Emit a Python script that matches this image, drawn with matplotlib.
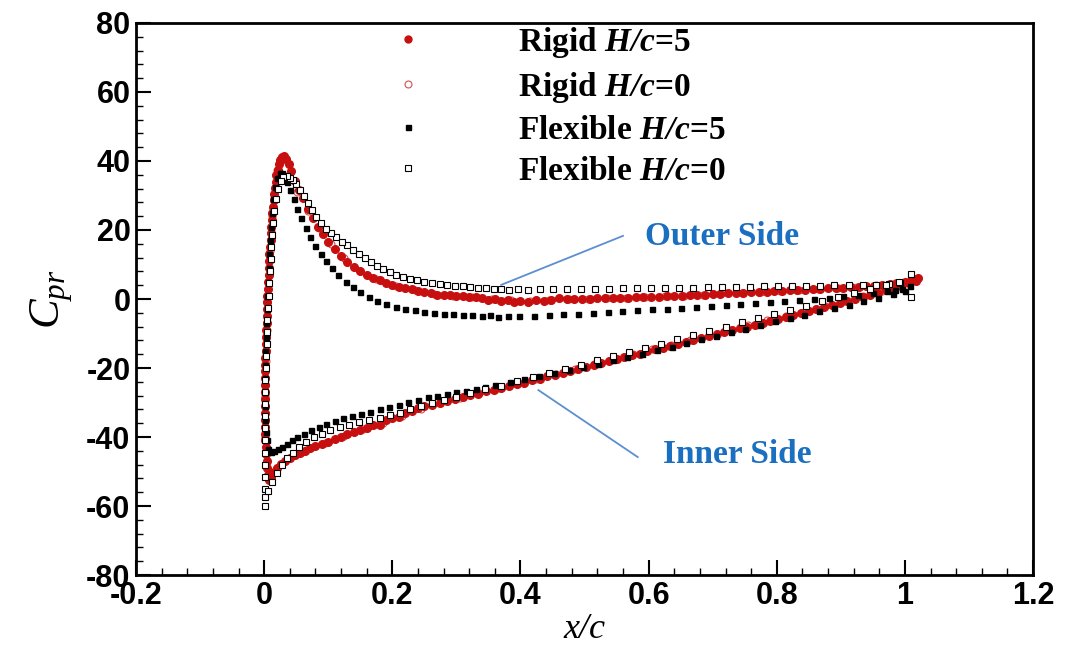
import numpy as np
import matplotlib.pyplot as plt
from matplotlib.lines import Line2D
from matplotlib.ticker import MultipleLocator

plt.rcParams['mathtext.fontset'] = 'custom'
plt.rcParams['mathtext.rm'] = 'Liberation Serif'
plt.rcParams['mathtext.it'] = 'Liberation Serif:italic'
plt.rcParams['mathtext.bf'] = 'Liberation Serif:italic:bold'
plt.rcParams['axes.unicode_minus'] = False

# Rigid H/c=5 : outer side (TE -> LE peak)
rig5_out_x = [1.020, 1.010, 1.000, 0.988, 0.976, 0.964, 0.952, 0.940, 0.928, 0.916, 0.904, 0.892,
              0.880, 0.868, 0.856, 0.844, 0.832, 0.820, 0.808, 0.796, 0.784, 0.772, 0.760, 0.748,
              0.736, 0.724, 0.712, 0.700, 0.688, 0.676, 0.664, 0.652, 0.640, 0.628, 0.616, 0.604,
              0.592, 0.580, 0.568, 0.556, 0.544, 0.532, 0.520, 0.508, 0.496, 0.484, 0.472, 0.460,
              0.448, 0.436, 0.424, 0.412, 0.400, 0.390, 0.380, 0.370, 0.360, 0.350, 0.340, 0.330,
              0.320, 0.310, 0.300, 0.290, 0.280, 0.270, 0.260, 0.250, 0.240, 0.230, 0.220, 0.210,
              0.200, 0.190, 0.180, 0.170, 0.160, 0.150, 0.140, 0.130, 0.120, 0.110, 0.100, 0.092,
              0.084, 0.076, 0.068, 0.060, 0.054, 0.048, 0.042, 0.038, 0.034, 0.031]
rig5_out_cp = [6.0, 5.5, 5.0, 4.6, 4.3, 4.1, 3.9, 3.8, 3.6, 3.5, 3.3, 3.2,
               3.1, 3.0, 2.8, 2.7, 2.6, 2.5, 2.4, 2.3, 2.1, 2.0, 1.9, 1.8,
               1.7, 1.6, 1.5, 1.4, 1.3, 1.2, 1.1, 1.0, 0.9, 0.8, 0.7, 0.6,
               0.5, 0.5, 0.4, 0.3, 0.3, 0.2, 0.2, 0.1, 0.1, 0.0, -0.1, 0.2,
               -0.3, -0.6, -0.4, -0.9, -0.5, -0.8, -0.3, -0.5, 0.0, -0.2, 0.3, 0.5,
               0.7, 0.8, 1.0, 1.1, 1.2, 1.3, 1.6, 2.0, 2.4, 2.8, 3.2, 3.6,
               4.1, 4.7, 5.4, 6.1, 7.0, 8.1, 9.3, 10.8, 12.5, 14.4, 16.6, 18.7,
               21.0, 23.5, 26.2, 29.2, 31.7, 34.3, 37.0, 39.0, 40.6, 41.4]
# Rigid H/c=5 : leading edge (peak -> minimum)
rig5_le_x = [0.028, 0.025, 0.023, 0.021, 0.019, 0.018, 0.017, 0.016, 0.015, 0.014, 0.013, 0.012,
             0.011, 0.010, 0.010, 0.009, 0.008, 0.008, 0.007, 0.007, 0.006, 0.006, 0.005, 0.005,
             0.004, 0.004, 0.004, 0.003, 0.003, 0.003, 0.003, 0.002, 0.002, 0.002, 0.002, 0.002,
             0.002, 0.002, 0.002, 0.002, 0.002, 0.002, 0.002, 0.002, 0.003, 0.003, 0.004, 0.005,
             0.006, 0.008]
rig5_le_cp = [41.2, 40.2, 39.0, 37.5, 35.8, 34.0, 32.2, 30.4, 28.6, 26.8, 25.0, 23.0,
              21.0, 19.0, 17.0, 15.0, 13.0, 11.0, 9.0, 7.0, 5.0, 3.0, 1.0, -1.0,
              -3.0, -5.0, -7.0, -9.0, -11.0, -13.0, -15.0, -17.0, -19.0, -21.0, -23.0, -25.0,
              -27.0, -29.0, -31.0, -33.0, -35.0, -37.0, -39.0, -41.0, -43.0, -45.0, -47.0, -49.0,
              -51.0, -52.5]
# Rigid H/c=5 : inner side (LE -> TE)
rig5_in_x = [0.010, 0.015, 0.020, 0.026, 0.032, 0.040, 0.048, 0.056, 0.064, 0.072, 0.080, 0.090,
             0.100, 0.110, 0.120, 0.130, 0.140, 0.150, 0.160, 0.170, 0.180, 0.190, 0.200, 0.210,
             0.220, 0.230, 0.240, 0.250, 0.262, 0.274, 0.286, 0.298, 0.310, 0.322, 0.334, 0.346,
             0.358, 0.370, 0.382, 0.394, 0.406, 0.418, 0.430, 0.442, 0.454, 0.466, 0.478, 0.490,
             0.502, 0.514, 0.526, 0.538, 0.550, 0.562, 0.574, 0.586, 0.598, 0.610, 0.622, 0.634,
             0.646, 0.658, 0.670, 0.682, 0.694, 0.706, 0.718, 0.730, 0.742, 0.754, 0.766, 0.778,
             0.790, 0.802, 0.814, 0.826, 0.838, 0.850, 0.862, 0.874, 0.886, 0.898, 0.910, 0.922,
             0.934, 0.946, 0.958, 0.970, 0.982, 0.994, 1.006, 1.018]
rig5_in_cp = [-51.5, -50.2, -49.0, -47.8, -46.9, -46.0, -45.2, -44.5, -43.9, -43.3, -42.7, -42.0,
              -41.3, -40.6, -39.9, -39.2, -38.6, -37.9, -37.4, -36.6, -36.4, -35.2, -34.6, -34.2,
              -33.0, -32.4, -31.5, -31.0, -30.6, -30.0, -29.5, -28.9, -28.5, -27.9, -27.4, -26.8,
              -26.4, -25.8, -25.3, -24.7, -24.2, -23.6, -23.1, -22.4, -21.9, -21.3, -20.8, -20.2,
              -19.6, -19.1, -18.5, -18.0, -17.4, -16.9, -16.3, -15.8, -15.2, -14.6, -14.1, -13.5,
              -13.0, -12.4, -11.9, -11.3, -10.8, -10.2, -9.6, -9.1, -8.5, -8.0, -7.4, -6.9,
              -6.3, -5.8, -5.2, -4.6, -4.1, -3.5, -3.0, -2.4, -1.8, -1.2, -0.6, 0.0,
              0.6, 1.2, 1.8, 2.5, 3.1, 3.8, 4.5, 5.3]

# Rigid H/c=0 (open circles, almost on top of H/c=5)
rig0_x = [1.015, 0.985, 0.955, 0.925, 0.895, 0.865, 0.835, 0.805, 0.775, 0.745, 0.715, 0.685,
          0.655, 0.625, 0.595, 0.565, 0.535, 0.505, 0.475, 0.445, 0.415, 0.385, 0.355, 0.325,
          0.295, 0.265, 0.235, 0.205, 0.175, 0.150, 0.125, 0.105, 0.085, 0.068, 0.052, 0.040,
          0.032, 0.026, 0.020, 0.015, 0.012, 0.009, 0.007, 0.005, 0.004, 0.003, 0.002, 0.002,
          0.003, 0.008, 0.020, 0.040, 0.065, 0.095, 0.125, 0.155, 0.185, 0.215, 0.245, 0.275,
          0.305, 0.335, 0.365, 0.395, 0.425, 0.455, 0.485, 0.515, 0.545, 0.575, 0.605, 0.635,
          0.665, 0.695, 0.725, 0.755, 0.785, 0.815, 0.845, 0.875, 0.905, 0.935, 0.965, 0.995]
rig0_cp = [5.8, 4.5, 4.0, 3.6, 3.3, 3.0, 2.7, 2.4, 2.1, 1.8, 1.6, 1.3,
           1.0, 0.8, 0.6, 0.4, 0.2, 0.1, 0.0, -0.2, -0.5, -0.4, 0.0, 0.5,
           1.0, 1.4, 2.6, 3.9, 5.8, 8.0, 11.8, 15.8, 20.5, 25.5, 31.0, 36.6,
           40.2, 40.8, 37.5, 29.0, 24.0, 14.0, 7.0, -1.0, -9.0, -18.0, -28.0, -40.0,
           -48.0, -52.0, -49.0, -46.0, -43.8, -41.6, -39.6, -37.8, -36.0, -34.0, -31.8, -30.0,
           -28.7, -27.3, -25.9, -24.5, -23.1, -21.7, -20.3, -18.9, -17.5, -16.0, -14.6, -13.2,
           -11.8, -10.4, -9.0, -7.6, -6.2, -4.8, -3.4, -2.0, -0.6, 0.8, 2.3, 3.8]

# Flexible H/c=5 (filled squares)
flx5_x = [1.008, 0.996, 0.984, 0.972, 0.950, 0.927, 0.904, 0.881, 0.858, 0.835, 0.812, 0.789,
          0.766, 0.743, 0.720, 0.697, 0.674, 0.651, 0.628, 0.605, 0.582, 0.559, 0.536, 0.513,
          0.490, 0.467, 0.444, 0.421, 0.398, 0.380, 0.365, 0.352, 0.340, 0.325, 0.310, 0.295,
          0.280, 0.265, 0.250, 0.235, 0.220, 0.205, 0.190, 0.176, 0.163, 0.150, 0.138, 0.127,
          0.116, 0.106, 0.097, 0.088, 0.080, 0.072, 0.065, 0.058, 0.052, 0.046, 0.041, 0.036,
          0.032, 0.028, 0.024, 0.020,
          0.017, 0.014, 0.012, 0.010, 0.009, 0.008, 0.007, 0.006, 0.005, 0.004, 0.003, 0.003,
          0.002, 0.002, 0.002, 0.002, 0.002, 0.002, 0.003, 0.004, 0.006,
          0.010, 0.015, 0.021, 0.028, 0.035, 0.043, 0.052, 0.062, 0.073, 0.085, 0.097, 0.110,
          0.123, 0.137, 0.151, 0.165, 0.180, 0.195, 0.210, 0.225, 0.240, 0.255, 0.270, 0.285,
          0.300, 0.315, 0.330, 0.345, 0.360, 0.383, 0.406, 0.429, 0.452, 0.475, 0.498, 0.521,
          0.544, 0.567, 0.590, 0.613, 0.636, 0.659, 0.682, 0.705, 0.728, 0.751, 0.774, 0.797,
          0.820, 0.843, 0.866, 0.889, 0.912, 0.935, 0.958, 0.981, 1.000]
flx5_cp = [3.8, 3.0, 2.6, 2.2, 1.8, 1.2, 0.8, 0.4, 0.0, -0.3, -0.6, -0.9,
           -1.2, -1.5, -1.8, -2.1, -2.3, -2.6, -2.8, -3.0, -3.2, -3.5, -3.7, -4.0,
           -4.2, -4.4, -4.6, -4.8, -5.0, -4.8, -5.3, -4.6, -5.0, -4.7, -4.6, -4.4,
           -4.2, -4.0, -3.7, -3.3, -2.8, -2.2, -1.4, -0.5, 0.6, 1.9, 3.4, 5.0,
           6.9, 8.9, 10.9, 13.1, 15.4, 18.0, 20.6, 23.4, 26.2, 29.0, 31.6, 34.0,
           35.6, 36.6, 36.5, 35.2,
           32.5, 29.0, 25.0, 21.0, 17.0, 13.0, 9.0, 5.0, 1.0, -3.0, -7.0, -11.0,
           -15.0, -19.0, -23.0, -27.0, -31.0, -35.0, -38.5, -41.0, -43.5,
           -44.2, -44.0, -43.6, -42.9, -42.0, -41.0, -40.1, -39.2, -38.1, -37.1, -36.2, -35.4,
           -34.6, -33.9, -33.3, -32.7, -32.0, -31.4, -30.6, -29.9, -29.2, -28.5, -28.0, -27.5,
           -27.0, -26.6, -26.1, -25.5, -25.0, -24.0, -23.3, -22.4, -21.5, -20.7, -19.7, -18.8,
           -17.8, -16.8, -15.8, -14.8, -13.8, -12.7, -11.7, -10.6, -9.6, -8.6, -7.5, -6.5,
           -5.6, -4.6, -3.6, -2.6, -1.6, -0.6, 0.4, 1.4, 2.4]

# Flexible H/c=0 (open squares)
flx0_x = [1.010, 0.993, 0.975, 0.955, 0.934, 0.912, 0.890, 0.868, 0.846, 0.824, 0.802, 0.780,
          0.758, 0.736, 0.714, 0.692, 0.670, 0.648, 0.626, 0.604, 0.582, 0.560, 0.538, 0.516,
          0.494, 0.472, 0.450, 0.430, 0.412, 0.396, 0.382, 0.370, 0.358, 0.346, 0.334, 0.322,
          0.310, 0.298, 0.286, 0.274, 0.262, 0.250, 0.239, 0.228, 0.217, 0.206, 0.196, 0.186,
          0.176, 0.166, 0.157, 0.148, 0.139, 0.130, 0.121, 0.112, 0.104, 0.096, 0.088, 0.081,
          0.074, 0.068, 0.062, 0.056, 0.050, 0.045, 0.040, 0.035, 0.030,
          0.026, 0.022, 0.019, 0.016, 0.014, 0.012, 0.011, 0.010, 0.009, 0.008, 0.007, 0.006,
          0.005, 0.004, 0.004, 0.003, 0.003, 0.002, 0.002, 0.002, 0.002, 0.002, 0.002, 0.002,
          0.002, 0.002, 0.002, 0.002, 0.002,
          0.006, 0.012, 0.020, 0.028, 0.036, 0.045, 0.055, 0.066, 0.078, 0.090, 0.103, 0.118,
          0.133, 0.148, 0.164, 0.180, 0.196, 0.212, 0.228, 0.245, 0.262, 0.280, 0.300, 0.322,
          0.345, 0.370, 0.395, 0.420, 0.445, 0.470, 0.495, 0.520, 0.545, 0.570, 0.595, 0.620,
          0.645, 0.670, 0.695, 0.720, 0.745, 0.770, 0.795, 0.820, 0.845, 0.870, 0.895, 0.920,
          0.945, 0.970, 0.990, 1.010]
flx0_cp = [7.3, 4.6, 4.3, 4.2, 4.1, 4.0, 4.0, 3.9, 3.8, 3.8, 3.7, 3.7,
           3.6, 3.5, 3.5, 3.4, 3.3, 3.3, 3.2, 3.2, 3.1, 3.1, 3.0, 3.0,
           2.9, 2.9, 2.8, 2.9, 2.7, 3.0, 2.6, 3.0, 2.9, 3.2, 3.3, 3.5,
           3.7, 3.9, 4.1, 4.4, 4.7, 5.0, 5.4, 5.9, 6.5, 7.1, 7.8, 8.6,
           9.5, 10.6, 11.8, 13.0, 14.3, 15.6, 16.6, 18.0, 19.2, 20.4, 22.0, 23.8,
           25.7, 27.8, 29.8, 31.6, 33.2, 34.4, 35.2, 35.6, 35.4,
           34.3, 32.0, 29.0, 25.5, 22.0, 18.5, 15.0, 11.5, 8.0, 4.5, 1.0, -2.5,
           -6.0, -9.5, -13.0, -16.5, -20.0, -23.5, -27.0, -30.5, -34.0, -37.5, -41.0, -44.5,
           -48.0, -51.5, -55.0, -57.5, -60.0,
           -55.5, -53.0, -50.5, -48.0, -46.0, -44.5, -42.8, -41.4, -40.0, -39.0, -38.0, -37.2,
           -36.4, -35.7, -35.0, -34.4, -33.7, -32.9, -32.0, -31.0, -30.2, -29.3, -28.4, -27.3,
           -26.2, -25.1, -23.8, -22.6, -21.4, -20.2, -19.0, -17.7, -16.5, -15.3, -14.1, -12.9,
           -11.7, -10.4, -9.2, -8.0, -6.8, -5.5, -4.3, -3.1, -1.9, -0.7, 0.5, 1.7,
           2.9, 4.0, 4.8, 0.6]

labels = ['Rigid $\\mathbf{H/c}$=5', 'Rigid $\\mathbf{H/c}$=0',
          'Flexible $\\mathbf{H/c}$=5', 'Flexible $\\mathbf{H/c}$=0']

red = '#c80f0f'
blue_txt = '#1a6fc0'
blue_line = '#5b8fd0'

rig5_x = rig5_out_x + rig5_le_x + rig5_in_x
rig5_cp = rig5_out_cp + rig5_le_cp + rig5_in_cp

fig = plt.figure(figsize=(10.66, 6.55), dpi=100)
ax = fig.add_axes([0.1276, 0.122, 0.8415, 0.843])

ax.plot(rig0_x, rig0_cp, 'o', ms=5, mfc='white', mec='#d05050', mew=0.8, ls='none')
ax.plot(rig5_x, rig5_cp, 'o', ms=5.5, color=red, ls='none')
ax.plot(flx5_x, flx5_cp, 's', ms=3.6, color='black', ls='none')
ax.plot(flx0_x, flx0_cp, 's', ms=4.2, mfc='white', mec='black', mew=0.8, ls='none')

ax.set_xlim(-0.2, 1.2)
ax.set_ylim(-80, 80)
ax.xaxis.set_minor_locator(MultipleLocator(0.04))
ax.yaxis.set_major_locator(MultipleLocator(20))
ax.yaxis.set_minor_locator(MultipleLocator(4))
ax.set_xticks(np.arange(-0.2, 1.21, 0.2))
ax.set_xticklabels(['-0.2', '0', '0.2', '0.4', '0.6', '0.8', '1', '1.2'])
ax.tick_params(which='both', direction='in', top=False, right=False, width=1.5)
ax.tick_params(which='major', length=11, labelsize=22, pad=4)
ax.tick_params(which='minor', length=5, width=1)
for lab in ax.get_xticklabels() + ax.get_yticklabels():
    lab.set_fontfamily('Liberation Sans')
    lab.set_fontweight('bold')
for s in ax.spines.values():
    s.set_linewidth(2)

ax.set_xlabel('x/c', fontfamily='Liberation Serif', fontstyle='italic', fontsize=26, labelpad=2)
ax.set_ylabel('$C_{pr}$', fontsize=32, labelpad=8)

handles = [Line2D([], [], marker='o', ls='none', ms=5, color=red),
           Line2D([], [], marker='o', ls='none', ms=5, mfc='white', mec='#d05050', mew=0.8),
           Line2D([], [], marker='s', ls='none', ms=3.6, color='black'),
           Line2D([], [], marker='s', ls='none', ms=4.2, mfc='white', mec='black', mew=0.8)]
ax.legend(handles, labels, loc='upper left', bbox_to_anchor=(391 / 1066, 1 - 25 / 655),
          bbox_transform=fig.transFigure, frameon=False, borderpad=0, borderaxespad=0,
          handlelength=1.0, handletextpad=2.8, labelspacing=0.3,
          prop={'family': 'Liberation Serif', 'weight': 'bold', 'size': 24})

ax.plot([0.56, 0.37], [18.3, 4.1], color=blue_line, lw=1.3)
ax.plot([0.583, 0.428], [-45.8, -26.4], color=blue_line, lw=1.3)
ax.text(0.594, 18.0, 'Outer Side', color=blue_txt, fontsize=24, fontweight='bold',
        fontfamily='Liberation Serif', va='center', ha='left')
ax.text(0.622, -45.2, 'Inner Side', color=blue_txt, fontsize=24, fontweight='bold',
        fontfamily='Liberation Serif', va='center', ha='left')

fig.savefig('out.png', dpi=100)
